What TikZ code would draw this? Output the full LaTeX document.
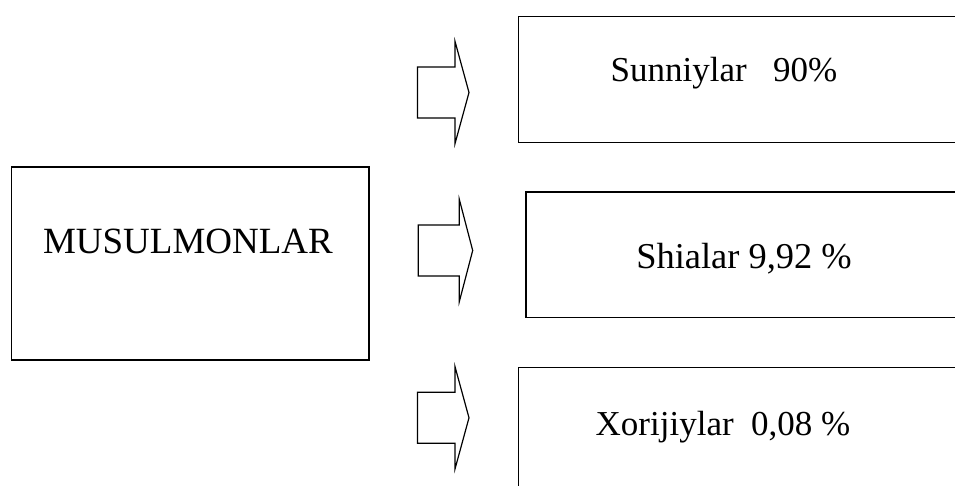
\documentclass[tikz,border=0pt]{standalone}
\usepackage{fontspec}
\setmainfont{Liberation Serif}
\usepackage{tikz}
\usetikzlibrary{positioning}

\tikzset{
  box/.style={draw, line width=0.8pt, inner sep=0pt, anchor=north west},
  lbl/.style={inner sep=0pt, anchor=base, font=\fontsize{17.5}{21}\selectfont},
  blockarrow/.style={draw, line width=0.6pt, line join=miter}
}

\begin{document}
\begin{tikzpicture}[x=0.5pt,y=-0.5pt]
		% page frame (boxes run off the right edge)
		\clip (0,0) rectangle (955,486);
		% main box
		\node[box, minimum width=178.8pt, minimum height=96.5pt] (muslim) at (10.7,166) {};
		\node[lbl, font=\fontsize{18.5}{22}\selectfont] (muslimlbl) at (188,253.3) {MUSULMONLAR};
		% branch boxes
		\node[box, minimum width=241pt, minimum height=63pt] (sunni) at (517.7,15.7) {};
		\node[box, minimum width=238pt, minimum height=62.6pt] (shia) at (525,191.5) {};
		\node[box, minimum width=241pt, minimum height=80pt] (xoriji) at (517.7,366.7) {};
		\node[lbl] (sunnilbl) at (724,82) {Sunniylar\ \ \ 90\%};
		\node[lbl, font=\fontsize{18.2}{22}\selectfont] (shialbl) at (744,268.3) {Shialar 9,92 \%};
		\node[lbl] (xorijilbl) at (723,435.7) {Xorijiylar\ \ 0,08 \%};
		% block arrows
		\foreach \l/\b/\t/\y in {417.5/455/469/92.5, 418.3/459.3/472.7/250.5, 417.5/455/469/417.8}{
			\draw[blockarrow] ({\l},{\y-25.5}) -- ({\b},{\y-25.5}) -- ({\b},{\y-51.2})
				-- ({\t},{\y}) -- ({\b},{\y+51.2}) -- ({\b},{\y+25.5}) -- ({\l},{\y+25.5}) -- cycle;
		}
	\end{tikzpicture}
\end{document}
